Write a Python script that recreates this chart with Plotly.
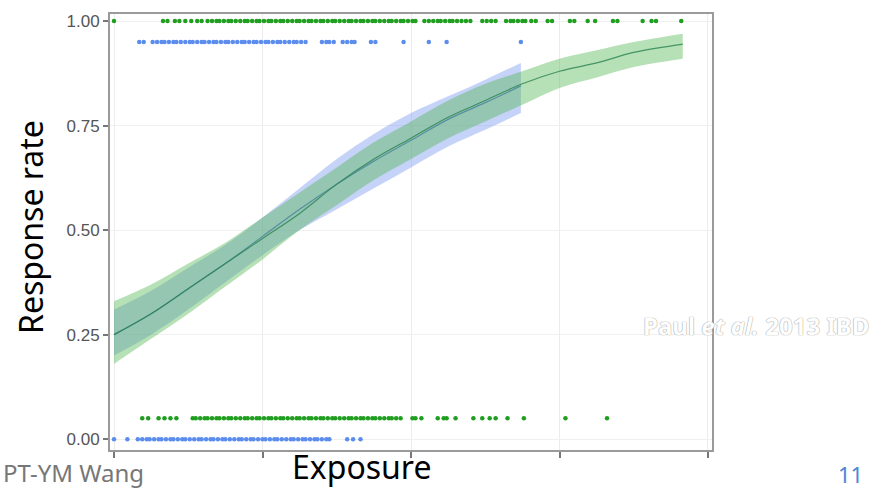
import plotly.graph_objects as go

# ---- data ----
green_top_x = [0.00, 0.33, 0.36, 0.41, 0.44, 0.48, 0.52, 0.56, 0.59, 0.63, 0.66, 0.69, 0.71,
               0.74, 0.77, 0.79, 0.82, 0.85, 0.88, 0.90, 0.93, 0.96, 0.98, 1.01, 1.04, 1.06, 1.09,
               1.12, 1.14, 1.17, 1.20, 1.23, 1.25, 1.28, 1.31, 1.33, 1.36, 1.39, 1.41, 1.44, 1.47,
               1.49, 1.52, 1.55, 1.58, 1.60, 1.63, 1.66, 1.68, 1.71, 1.74, 1.76, 1.79, 1.82, 1.85,
               1.87, 1.90, 1.93, 1.95, 1.98, 2.01, 2.03,
               2.09, 2.12, 2.15, 2.18, 2.20, 2.23, 2.26, 2.28, 2.31, 2.34, 2.37, 2.40,
               2.48, 2.51, 2.54, 2.57, 2.64, 2.67, 2.69, 2.72, 2.75, 2.77, 2.81, 2.84, 2.92, 2.95,
               3.07, 3.10, 3.19, 3.24, 3.36, 3.39, 3.56, 3.62, 3.65, 3.82]
green_top_y = 1.00

blue_top_x = [0.17, 0.20, 0.26, 0.29, 0.32, 0.34, 0.37, 0.40, 0.42, 0.45, 0.48, 0.51, 0.53, 0.56,
              0.59, 0.61, 0.64, 0.67, 0.69, 0.72, 0.75, 0.77, 0.80, 0.83, 0.86, 0.88, 0.91, 0.94,
              0.96, 0.99, 1.02, 1.04, 1.07, 1.10, 1.12, 1.15, 1.18, 1.21, 1.23, 1.26, 1.29,
              1.40, 1.43, 1.45, 1.48, 1.54, 1.57, 1.60, 1.62, 1.73, 1.76, 1.95, 2.12, 2.24, 2.74]
blue_top_y = 0.95

green_bot_x = [0.19, 0.23, 0.30, 0.34, 0.38, 0.42, 0.53, 0.55, 0.58, 0.61, 0.63, 0.66, 0.69, 0.71,
               0.74, 0.77, 0.79, 0.82, 0.85, 0.88, 0.90, 0.93, 0.96, 0.98, 1.01, 1.04, 1.06, 1.09,
               1.12, 1.14, 1.17, 1.20, 1.23, 1.25, 1.28, 1.31, 1.33, 1.36, 1.39, 1.41, 1.44, 1.47,
               1.49, 1.52, 1.55, 1.58, 1.60, 1.63, 1.66, 1.68, 1.71, 1.74, 1.76, 1.79, 1.82, 1.85,
               1.87, 1.90, 1.93, 2.01, 2.03, 2.07, 2.18, 2.22, 2.24, 2.30, 2.42, 2.48, 2.53, 2.57,
               2.65, 2.76, 3.04, 3.32]
green_bot_y = 0.05

blue_bot_x = [0.00, 0.09, 0.16, 0.19, 0.22, 0.24, 0.27, 0.30, 0.32, 0.35, 0.38, 0.40, 0.43, 0.46,
              0.48, 0.51, 0.54, 0.57, 0.59, 0.62, 0.65, 0.67, 0.70, 0.73, 0.75, 0.78, 0.81, 0.84,
              0.86, 0.89, 0.92, 0.94, 0.97, 1.00, 1.02, 1.05, 1.08, 1.10, 1.13, 1.16, 1.19, 1.21,
              1.24, 1.27, 1.29, 1.32, 1.35, 1.37, 1.40, 1.43, 1.45, 1.57, 1.61, 1.66]
blue_bot_y = 0.00

green_fit_x = [0.00, 0.25, 0.50, 0.75, 1.00, 1.25, 1.50, 1.75, 2.00, 2.25, 2.50, 2.75, 3.00, 3.25, 3.50, 3.83]
green_fit_y = [0.25, 0.30, 0.36, 0.42, 0.48, 0.54, 0.61, 0.67, 0.72, 0.77, 0.81, 0.85, 0.88, 0.90, 0.925, 0.945]
green_lo = [0.18, 0.24, 0.30, 0.365, 0.43, 0.50, 0.56, 0.62, 0.67, 0.72, 0.76, 0.80, 0.84, 0.865, 0.89, 0.91]
green_hi = [0.33, 0.37, 0.42, 0.47, 0.53, 0.59, 0.65, 0.71, 0.76, 0.81, 0.85, 0.88, 0.91, 0.93, 0.95, 0.97]

blue_fit_x = [0.00, 0.25, 0.50, 0.75, 1.00, 1.25, 1.50, 1.75, 2.00, 2.25, 2.50, 2.74]
blue_fit_y = [0.25, 0.30, 0.36, 0.42, 0.485, 0.55, 0.61, 0.665, 0.715, 0.765, 0.805, 0.845]
blue_lo = [0.20, 0.25, 0.31, 0.375, 0.44, 0.50, 0.55, 0.60, 0.65, 0.70, 0.74, 0.78]
blue_hi = [0.31, 0.355, 0.41, 0.465, 0.53, 0.60, 0.67, 0.73, 0.78, 0.82, 0.86, 0.90]

x_ticks = [0, 1, 2, 3, 4]
y_ticks = [0.00, 0.25, 0.50, 0.75, 1.00]
y_tick_text = ["0.00", "0.25", "0.50", "0.75", "1.00"]

GREEN = "#1f9e1f"
BLUE = "#5b8def"

fig = go.Figure()

# confidence bands
fig.add_trace(go.Scatter(x=blue_fit_x, y=blue_lo, mode="lines", line=dict(width=0, shape="spline"),
                         hoverinfo="skip", showlegend=False))
fig.add_trace(go.Scatter(x=blue_fit_x, y=blue_hi, mode="lines", line=dict(width=0, shape="spline"),
                         fill="tonexty", fillcolor="rgba(120,150,240,0.42)", showlegend=False))
fig.add_trace(go.Scatter(x=green_fit_x, y=green_lo, mode="lines", line=dict(width=0, shape="spline"),
                         hoverinfo="skip", showlegend=False))
fig.add_trace(go.Scatter(x=green_fit_x, y=green_hi, mode="lines", line=dict(width=0, shape="spline"),
                         fill="tonexty", fillcolor="rgba(80,180,80,0.42)", showlegend=False))

# fitted curves
fig.add_trace(go.Scatter(x=blue_fit_x, y=blue_fit_y, mode="lines",
                         line=dict(color="rgba(60,120,150,0.7)", width=1.2, shape="spline"), showlegend=False))
fig.add_trace(go.Scatter(x=green_fit_x, y=green_fit_y, mode="lines",
                         line=dict(color="rgba(40,130,80,0.8)", width=1.2, shape="spline"), showlegend=False))

# observed points
fig.add_trace(go.Scatter(x=green_top_x, y=[green_top_y] * len(green_top_x), mode="markers",
                         marker=dict(color=GREEN, size=4.5), showlegend=False))
fig.add_trace(go.Scatter(x=green_bot_x, y=[green_bot_y] * len(green_bot_x), mode="markers",
                         marker=dict(color=GREEN, size=4.5), showlegend=False))
fig.add_trace(go.Scatter(x=blue_top_x, y=[blue_top_y] * len(blue_top_x), mode="markers",
                         marker=dict(color=BLUE, size=4.5), showlegend=False))
fig.add_trace(go.Scatter(x=blue_bot_x, y=[blue_bot_y] * len(blue_bot_x), mode="markers",
                         marker=dict(color=BLUE, size=4.5), showlegend=False))

tickfont = dict(family="Liberation Sans Narrow, Arial Narrow, sans-serif", size=17, color="#555555")

fig.update_xaxes(range=[-0.027, 4.027], tickvals=x_ticks, ticktext=["", "", "", "", ""],
                 ticks="outside", ticklen=6, tickcolor="#777777", tickwidth=1.5,
                 showgrid=True, gridcolor="#ececec", gridwidth=1,
                 showline=True, linecolor="#9a9a9a", linewidth=2, mirror=True, zeroline=False)
fig.update_yaxes(range=[-0.026, 1.017], tickvals=y_ticks, ticktext=y_tick_text, tickfont=tickfont,
                 ticks="outside", ticklen=5, tickcolor="#777777", tickwidth=1.5,
                 showgrid=True, gridcolor="#f0f0f0", gridwidth=1,
                 showline=True, linecolor="#9a9a9a", linewidth=2, mirror=True, zeroline=False)

W, H = 894, 489
L, R, T, B = 110, 712, 14, 450


def px(xp):
    return (xp - L) / (R - L)


def py(yp):
    return (B - yp) / (B - T)


annotations = [
    dict(text="Response rate", x=px(30), y=py(227), xref="paper", yref="paper", showarrow=False,
         textangle=-90, font=dict(family="Noto Sans, Open Sans, sans-serif", size=32, color="#000000"),
         xanchor="center", yanchor="middle"),
    dict(text="Exposure", x=px(362), y=py(467), xref="paper", yref="paper", showarrow=False,
         font=dict(family="Noto Sans, Open Sans, sans-serif", size=32, color="#000000"),
         xanchor="center", yanchor="middle"),
    dict(text="PT-YM Wang", x=px(2), y=py(472), xref="paper", yref="paper", showarrow=False,
         font=dict(family="Noto Sans, Open Sans, sans-serif", size=24, color="#777777"),
         xanchor="left", yanchor="middle", borderpad=0),
    dict(text="11", x=px(851), y=py(474), xref="paper", yref="paper", showarrow=False,
         font=dict(family="Noto Sans, Open Sans, sans-serif", size=22, color="#4a86d8"),
         xanchor="center", yanchor="middle"),
    dict(text="<b>Paul <i>et al.</i> 2013 IBD</b>", x=px(641), y=py(326), xref="paper", yref="paper",
         showarrow=False,
         font=dict(family="Noto Sans, sans-serif", size=24, color="#ffffff",
                   shadow="0px 0px 1px #9a9a9a, 0px 0px 1px #9a9a9a"),
         xanchor="left", yanchor="middle"),
]

fig.update_layout(width=W, height=H, margin=dict(l=L, r=W - R, t=T, b=H - B),
                  plot_bgcolor="#ffffff", paper_bgcolor="#ffffff", annotations=annotations)

fig.write_html("out.html")
